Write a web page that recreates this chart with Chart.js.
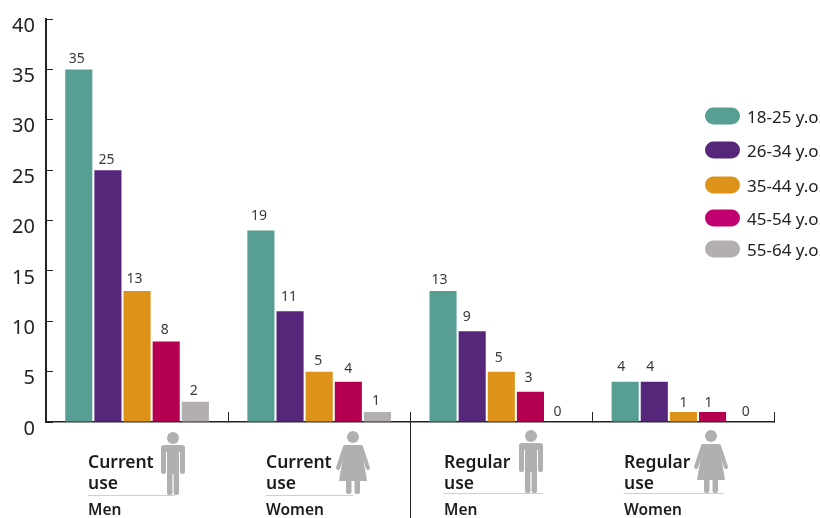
<!DOCTYPE html>
<html>
<head>
<meta charset="utf-8">
<title>Use by age group</title>
<script src="https://cdn.jsdelivr.net/npm/chart.js@4"></script>
<style>
    html, body { margin: 0; padding: 0; background: #fff; overflow: hidden; }
    canvas { display: block; }
</style>
</head>
<body>
<canvas id="chartCanvas" width="820" height="518"></canvas>
<script>
const categories = ['Current use Men', 'Current use Women', 'Regular use Men', 'Regular use Women'];
const useLabels = ['Current', 'Current', 'Regular', 'Regular'];
const genderLabels = ['Men', 'Women', 'Men', 'Women'];
const ageLabels = ['18-25 y.o.', '26-34 y.o.', '35-44 y.o.', '45-54 y.o.', '55-64 y.o.'];

const age18to25 = [35, 19, 13, 4];
const age26to34 = [25, 11, 9, 4];
const age35to44 = [13, 5, 5, 1];
const age45to54 = [8, 4, 3, 1];
const age55to64 = [2, 1, 0, 0];

const barColors = ['#579f94', '#55267a', '#dd931a', '#b5004f', '#b3aeb0'];
const legendColors = ['#579f94', '#55267a', '#dd931a', '#c0006f', '#b3aeb0'];
const legendRows = [116, 150, 185, 218, 249];

// the value labels were placed by hand in the original: per series, per group
const labelDx = [[-2, -2, -3.5, -4], [-1.5, -1, -5.5, -4], [-2.5, -1, -2.5, 0], [-1.5, 0, -2, -4], [-1.5, -1.5, -2, 4]];
const labelLift = [[10, 15, 11, 15], [10, 14.5, 14, 15], [12, 11, 14, 9], [11, 13, 14, 9], [10.5, 11, 10, 10]];

const FONT = '"Noto Sans", sans-serif';
const INK = '#222';

// Little grey figures under the groups
function drawMan(ctx, cx, top) {
    ctx.fillStyle = '#b0b0b2';
    ctx.beginPath();
    ctx.arc(cx, top + 6, 6, 0, Math.PI * 2);
    ctx.fill();
    ctx.beginPath();
    ctx.roundRect(cx - 12, top + 13, 24, 7, 3);
    ctx.fill();
    ctx.beginPath();
    ctx.roundRect(cx - 12, top + 14, 5, 28, 2);
    ctx.roundRect(cx + 7, top + 14, 5, 28, 2);
    ctx.rect(cx - 6, top + 14, 12, 28);
    ctx.roundRect(cx - 6, top + 38, 5.4, 25, 2);
    ctx.roundRect(cx + 0.6, top + 38, 5.4, 25, 2);
    ctx.fill();
}

function drawWoman(ctx, cx, top) {
    ctx.fillStyle = '#b0b0b2';
    ctx.beginPath();
    ctx.arc(cx, top + 6, 6, 0, Math.PI * 2);
    ctx.fill();
    // dress
    ctx.beginPath();
    ctx.moveTo(cx - 8, top + 14);
    ctx.lineTo(cx + 8, top + 14);
    ctx.lineTo(cx + 14, top + 50);
    ctx.lineTo(cx - 14, top + 50);
    ctx.closePath();
    ctx.fill();
    // arms
    ctx.strokeStyle = '#b0b0b2';
    ctx.lineWidth = 4;
    ctx.lineCap = 'round';
    ctx.beginPath();
    ctx.moveTo(cx - 8, top + 16);
    ctx.lineTo(cx - 15, top + 37);
    ctx.moveTo(cx + 8, top + 16);
    ctx.lineTo(cx + 15, top + 37);
    ctx.stroke();
    // legs
    ctx.beginPath();
    ctx.roundRect(cx - 7, top + 48, 5.5, 15, 2);
    ctx.roundRect(cx + 1.5, top + 48, 5.5, 15, 2);
    ctx.fill();
}

const valueLabels = {
    id: 'valueLabels',
    afterDatasetsDraw(chart) {
        const ctx = chart.ctx;
        ctx.save();
        ctx.font = '14px ' + FONT;
        ctx.fillStyle = '#3a3a3a';
        ctx.textAlign = 'center';
        ctx.textBaseline = 'middle';
        chart.data.datasets.forEach((ds, i) => {
            chart.getDatasetMeta(i).data.forEach((bar, j) => {
                ctx.fillText(String(ds.data[j]), bar.x + labelDx[i][j], bar.y - labelLift[i][j]);
            });
        });
        ctx.restore();
    }
};

const groupLabels = {
    id: 'groupLabels',
    afterDraw(chart) {
        const ctx = chart.ctx;
        const xs = chart.scales.x;
        const base = chart.scales.y.getPixelForValue(0);

        // divider between current and regular use
        const mid = Math.round((xs.getPixelForValue(1) + xs.getPixelForValue(2)) / 2) + 0.5;
        ctx.save();
        ctx.strokeStyle = INK;
        ctx.lineWidth = 1;
        ctx.beginPath();
        ctx.moveTo(mid, base);
        ctx.lineTo(mid, 518);
        ctx.stroke();

        const textX = [88, 266, 444, 624];
        const ruleEnd = [175, 353, 542, 723];
        const figureX = [173, 353, 531, 711];
        const figureTop = [432, 431, 430, 430];
        const ruleY = [495, 495, 493, 493];

        categories.forEach((c, i) => {
            if (genderLabels[i] === 'Men') drawMan(ctx, figureX[i], figureTop[i]);
            else drawWoman(ctx, figureX[i], figureTop[i]);

            ctx.strokeStyle = '#cfcfd1';
            ctx.lineWidth = 1;
            ctx.beginPath();
            ctx.moveTo(textX[i], ruleY[i] + 0.5);
            ctx.lineTo(ruleEnd[i], ruleY[i] + 0.5);
            ctx.stroke();

            ctx.fillStyle = '#1c1c1c';
            ctx.textAlign = 'left';
            ctx.textBaseline = 'alphabetic';
            ctx.font = '600 17.5px ' + FONT;
            ctx.fillText(useLabels[i], textX[i], 468);
            ctx.fillText('use', textX[i], 489);
            ctx.font = '600 15.5px ' + FONT;
            ctx.fillText(genderLabels[i], textX[i], 515);
        });

        // legend has uneven row spacing in the original, so draw it by hand
        ageLabels.forEach((label, i) => {
            ctx.fillStyle = legendColors[i];
            ctx.beginPath();
            ctx.roundRect(705, legendRows[i] - 8.5, 35, 17, 8.5);
            ctx.fill();
            ctx.fillStyle = '#222';
            ctx.font = '17px ' + FONT;
            ctx.textBaseline = 'middle';
            ctx.fillText(label, 747, legendRows[i] + 2);
        });
        ctx.restore();
    }
};

new Chart(document.getElementById('chartCanvas').getContext('2d'), {
    type: 'bar',
    data: {
        labels: categories,
        datasets: [age18to25, age26to34, age35to44, age45to54, age55to64].map((values, i) => ({
            label: ageLabels[i],
            data: values,
            backgroundColor: barColors[i],
            borderWidth: 0,
            categoryPercentage: 0.8,
            barPercentage: 0.93
        }))
    },
    options: {
        responsive: false,
        animation: false,
        layout: { padding: { top: 19, right: 45.5, bottom: 96, left: 0 } },
        plugins: { legend: { display: false }, tooltip: { enabled: false } },
        scales: {
            x: {
                afterFit: scale => { scale.height = 0; },
                border: { color: INK, width: 1.5 },
                grid: { drawOnChartArea: false, color: INK, tickLength: -10, offset: true },
                ticks: { display: false }
            },
            y: {
                min: 0,
                max: 40,
                afterFit: scale => {
                    scale.width = 46;
                    scale.paddingTop = 0; // no extra room for the top label
                },
                border: { color: INK, width: 2 },
                grid: { drawOnChartArea: false, color: INK, tickLength: -7 },
                ticks: {
                    stepSize: 5,
                    padding: 18,
                    color: '#222',
                    font: { family: FONT, size: 20, lineHeight: 0.7 },
                    // the numbers sit a few pixels under their ticks
                    callback: value => ['', String(value)]
                }
            }
        }
    },
    plugins: [valueLabels, groupLabels]
});
</script>
</body>
</html>
